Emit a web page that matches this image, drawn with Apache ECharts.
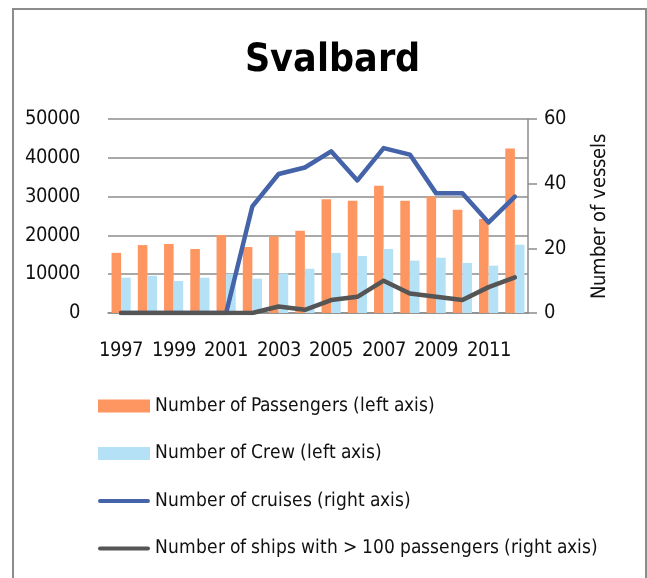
<!DOCTYPE html>
<html>
<head>
<meta charset="utf-8">
<script src="https://cdn.jsdelivr.net/npm/echarts@6/dist/echarts.min.js"></script>
<style>
@font-face{font-family:'CondX';font-weight:400;src:local('Liberation Sans Narrow'),local('LiberationSansNarrow'),local('LiberationSansNarrow-Regular'),local('DejaVu Sans Condensed'),local('DejaVuSansCondensed');}
@font-face{font-family:'CondX';font-weight:700;src:local('Liberation Sans Narrow Bold'),local('LiberationSansNarrow-Bold'),local('DejaVu Sans Condensed Bold'),local('DejaVuSansCondensed-Bold');}
html,body{margin:0;padding:0;background:#fff;width:647px;height:578px;overflow:hidden;}
#frame{position:absolute;left:12px;top:8px;width:631px;height:600px;border:2px solid #8c8c8c;border-bottom:none;}
#chart{position:absolute;left:0;top:0;width:647px;height:578px;}
#probe{position:absolute;left:-1000px;font-family:CondX;}
</style>
</head>
<body>
<div id="frame"></div>
<div id="chart"></div>
<span id="probe">0 <b>0</b></span>
<script>
const years = ['1997','1998','1999','2000','2001','2002','2003','2004','2005','2006','2007','2008','2009','2010','2011','2012'];
const passengers = [15500,17500,17800,16500,20100,17000,19800,21200,29300,28900,32800,28900,30000,26600,24200,42400];
const crew = [9100,9600,8250,9100,10100,8850,10200,11400,15500,14700,16500,13500,14250,12900,12200,17600];
const cruises = [0,0,0,0,0,33,43,45,50,41,51,49,37,37,28,36];
const bigShips = [0,0,0,0,0,0,2,1,4,5,10,6,5,4,8,11];

const FONT = 'CondX, "DejaVu Sans", sans-serif';
const LINE_ICON = 'path://M2.25,0 L53.75,0 A2.25,2.25 0 0 1 53.75,4.5 L2.25,4.5 A2.25,2.25 0 0 1 2.25,0 Z';

function draw(){
  const chart = echarts.init(document.getElementById('chart'), null, {renderer:'canvas'});
  chart.setOption({
    backgroundColor: 'transparent',
    animation: false,
    title: {
      text: 'Svalbard',
      left: 327, top: 36, textAlign: 'center',
      textStyle: {fontFamily: FONT, fontSize: 39, fontWeight: 'bold', color: '#000'}
    },
    legend: {
      orient: 'vertical', left: 93, top: 389,
      itemWidth: 52, itemHeight: 13, itemGap: 23.5,
      textStyle: {fontFamily: FONT, fontSize: 19, color: '#111', lineHeight: 24},
      data: [
        {name: 'Number of Passengers (left axis)', icon: 'rect'},
        {name: 'Number of Crew (left axis)', icon: 'rect'},
        {name: 'Number of cruises (right axis)', icon: LINE_ICON, itemStyle: {color: '#4463A8'}},
        {name: 'Number of ships with > 100 passengers (right axis)', icon: LINE_ICON, itemStyle: {color: '#555555'}}
      ]
    },
    grid: {left: 108, right: 119, top: 119, bottom: 265, containLabel: false},
    xAxis: {
      type: 'category', data: years, boundaryGap: true,
      axisLine: {show: true, lineStyle: {color: '#8c8c8c', width: 1.5}},
      axisTick: {show: false},
      axisLabel: {interval: 1, margin: 28, fontFamily: FONT, fontSize: 20, color: '#111'}
    },
    yAxis: [
      {
        type: 'value', min: 0, max: 50000, interval: 10000,
        axisLine: {show: false}, axisTick: {show: false},
        splitLine: {show: true, lineStyle: {color: '#8c8c8c', width: 1.5}},
        axisLabel: {margin: 28, fontFamily: FONT, fontSize: 20, color: '#111', formatter: v => String(v)}
      },
      {
        type: 'value', min: 0, max: 60, interval: 20, position: 'right',
        name: 'Number of vessels', nameLocation: 'middle', nameGap: 62, nameRotate: 90,
        nameTextStyle: {fontFamily: FONT, fontSize: 20, color: '#111'},
        axisLine: {show: true, lineStyle: {color: '#8c8c8c', width: 1.5}},
        axisTick: {show: true, inside: false, length: 9, lineStyle: {color: '#8c8c8c', width: 1.5}},
        splitLine: {show: false},
        axisLabel: {margin: 16, fontFamily: FONT, fontSize: 20, color: '#111', formatter: v => String(v)}
      }
    ],
    series: [
      {
        name: 'Number of Passengers (left axis)', type: 'bar', yAxisIndex: 0,
        data: passengers, barGap: '0%', barCategoryGap: '27%',
        itemStyle: {color: '#FD9661'}
      },
      {
        name: 'Number of Crew (left axis)', type: 'bar', yAxisIndex: 0,
        data: crew, barGap: '0%', barCategoryGap: '27%',
        itemStyle: {color: '#B4E1F6'}
      },
      {
        name: 'Number of cruises (right axis)', type: 'line', yAxisIndex: 1,
        data: cruises, symbol: 'none',
        lineStyle: {color: '#4463A8', width: 4.5, cap: 'round', join: 'round'},
        itemStyle: {color: '#4463A8'}
      },
      {
        name: 'Number of ships with > 100 passengers (right axis)', type: 'line', yAxisIndex: 1,
        data: bigShips, symbol: 'none',
        lineStyle: {color: '#555555', width: 4.5, cap: 'round', join: 'round'},
        itemStyle: {color: '#555555'}
      }
    ]
  });
}
Promise.all([
  document.fonts.load('400 20px CondX'),
  document.fonts.load('700 44px CondX')
]).then(draw, draw);
</script>
</body>
</html>
